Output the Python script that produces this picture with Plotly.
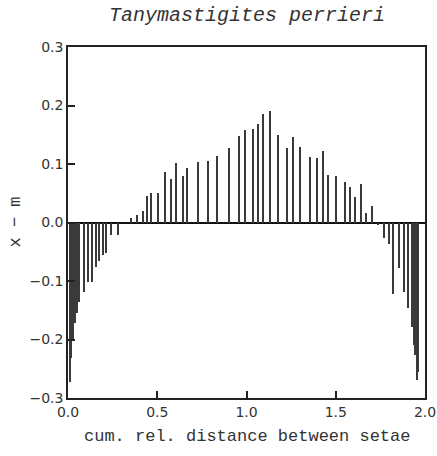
import plotly.graph_objects as go

# cumulative relative distance of each seta, and deviation x - m
pos_left = [0.010, 0.020, 0.028, 0.040, 0.050, 0.063, 0.090, 0.113, 0.133,
            0.155, 0.175, 0.194, 0.216, 0.244, 0.280]
val_left = [-0.272, -0.232, -0.200, -0.172, -0.155, -0.136, -0.118, -0.101, -0.101,
            -0.076, -0.066, -0.055, -0.052, -0.021, -0.021]

pos_mid = [0.353, 0.386, 0.418, 0.442, 0.465, 0.504, 0.543, 0.578, 0.605, 0.642,
           0.668, 0.730, 0.784, 0.833, 0.900, 0.957, 0.991, 1.038, 1.065, 1.095,
           1.134, 1.176, 1.230, 1.261, 1.302, 1.358, 1.394, 1.431, 1.456, 1.504,
           1.551, 1.579, 1.611, 1.641, 1.670, 1.706]
val_mid = [0.008, 0.013, 0.019, 0.045, 0.050, 0.050, 0.087, 0.075, 0.102, 0.079,
           0.093, 0.103, 0.105, 0.113, 0.128, 0.148, 0.158, 0.160, 0.169, 0.185,
           0.190, 0.150, 0.127, 0.146, 0.129, 0.112, 0.110, 0.122, 0.081, 0.079,
           0.070, 0.061, 0.044, 0.065, 0.017, 0.028]

pos_right = [1.736, 1.769, 1.799, 1.823, 1.856, 1.880, 1.907, 1.927, 1.938,
             1.946, 1.950, 1.953, 1.959, 1.962]
val_right = [-0.004, -0.027, -0.037, -0.122, -0.077, -0.118, -0.146, -0.178, -0.210,
             -0.226, -0.190, -0.270, -0.255, -0.240]

x_ticks = [0.0, 0.5, 1.0, 1.5, 2.0]
x_tick_text = ["0.0", "0.5", "1.0", "1.5", "2.0"]
y_ticks = [-0.3, -0.2, -0.1, 0.0, 0.1, 0.2, 0.3]
y_tick_text = ["\u22120.3", "\u22120.2", "\u22120.1", "0.0", "0.1", "0.2", "0.3"]

xs = pos_left + pos_mid + pos_right
ys = val_left + val_mid + val_right

fig = go.Figure()
fig.add_trace(go.Bar(
    x=xs, y=ys, width=0.0065,
    marker=dict(color="#3a3a3a", line=dict(width=0)),
    showlegend=False,
))

axis_common = dict(
    showline=True, linecolor="#222", linewidth=1.5, mirror=True,
    ticks="inside", ticklen=7, tickwidth=1.5, tickcolor="#222",
    showgrid=False, automargin=False,
    tickfont=dict(family="DejaVu Sans", size=14, color="#333"),
)

fig.update_layout(
    width=437, height=456,
    margin=dict(l=68, r=12, t=47, b=58),
    paper_bgcolor="white", plot_bgcolor="white",
    bargap=0,
    xaxis=dict(range=[0, 2.0], tickvals=x_ticks, ticktext=x_tick_text,
               zeroline=False, **axis_common),
    yaxis=dict(range=[-0.3, 0.3], tickvals=y_ticks, ticktext=y_tick_text,
               zeroline=True, zerolinecolor="#111", zerolinewidth=1.6,
               **axis_common),
    annotations=[
        dict(text="Tanymastigites perrieri", xref="paper", yref="paper",
             x=0.5, y=1, yshift=32, showarrow=False,
             font=dict(family="Liberation Mono", size=20, color="#333",
                       style="italic"),
             xanchor="center", yanchor="middle"),
        dict(text="cum. rel. distance between setae", xref="paper", yref="paper",
             x=0.5, y=0, yshift=-38, showarrow=False,
             font=dict(family="Liberation Mono", size=17, color="#333"),
             xanchor="center", yanchor="middle"),
        dict(text="x \u2212 m", xref="paper", yref="paper",
             x=0, xshift=-53, y=0.5, showarrow=False, textangle=-90,
             font=dict(family="Liberation Mono", size=17, color="#333"),
             xanchor="center", yanchor="middle"),
    ],
)

fig.write_html("out.html",
               config={"displayModeBar": False},
               post_script="document.body.style.margin='0';"
                           "document.body.style.padding='0';")
